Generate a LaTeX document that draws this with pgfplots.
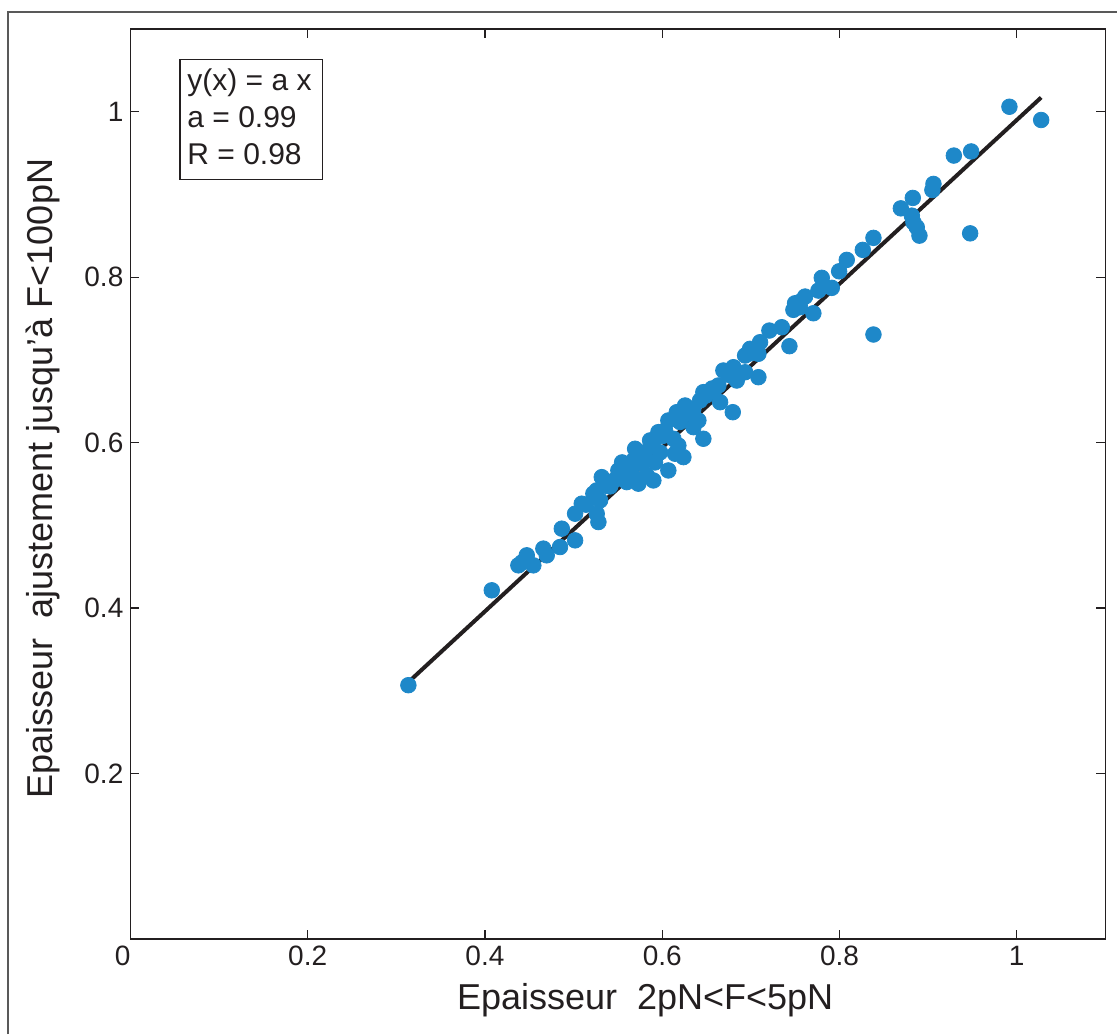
\documentclass[border=0pt]{standalone}
\usepackage{fontspec}
\setmainfont{Liberation Sans}
\usepackage{pgfplots}
\pgfplotsset{compat=1.18}
\definecolor{dotblue}{RGB}{30,136,201}
\definecolor{ink}{RGB}{35,31,32}
\begin{document}
\begin{tikzpicture}
\path[use as bounding box] (0,0) rectangle (558.5pt,517pt);
\draw[line width=0.7pt, color=gray!70!black] (4pt,0) -- (4pt,511pt) -- (558.5pt,511pt);
\begin{axis}[
  at={(65.2pt,47.5pt)}, anchor=south west,
  scale only axis, width=487.5pt, height=455pt,
  xmin=0, xmax=1.1, ymin=0, ymax=1.1,
  axis line style={line width=0.8pt, color=ink},
  tick style={line width=0.6pt, color=ink},
  tick align=inside, major tick length=4.5pt,
  xtick={0,0.2,0.4,0.6,0.8,1},
  xticklabels={\makebox[0pt][r]{0},0.2,0.4,0.6,0.8,1},
  ytick={0.2,0.4,0.6,0.8,1},
  yticklabels={0.2,0.4,0.6,0.8,1},
  ticklabel style={font=\fontsize{14}{16}\selectfont, color=ink},
  label style={font=\fontsize{18}{21}\selectfont, color=ink},
  xlabel={Epaisseur\ \ 2pN<F<5pN},
  ylabel={Epaisseur\ \ ajustement jusqu'à F<100pN},
  xlabel style={at={(axis description cs:0.528,-0.078)}, anchor=base},
  ylabel style={at={(axis description cs:-0.0794,0.506)}, anchor=base},
]
\addplot[only marks, color=dotblue, mark=*, mark size=3.9pt, mark options={draw=none, fill=dotblue}] table {
x y
0.9917 1.006
1.0275 0.990
0.929 0.947
0.9485 0.952
0.906 0.9127
0.9048 0.9054
0.8827 0.8958
0.8692 0.8832
0.8816 0.8744
0.8834 0.8663
0.8872 0.8603
0.8902 0.8502
0.9474 0.853
0.8383 0.8475
0.8263 0.833
0.8082 0.8209
0.7996 0.8071
0.78 0.7992
0.7913 0.7871
0.7762 0.7838
0.7612 0.7766
0.7499 0.7685
0.748 0.7605
0.7555 0.7637
0.7705 0.7564
0.8383 0.7307
0.7349 0.7395
0.7209 0.7355
0.7435 0.7166
0.7104 0.7214
0.6991 0.7134
0.7085 0.7074
0.6935 0.7053
0.7085 0.6791
0.669 0.6872
0.6803 0.6912
0.6841 0.6751
0.6935 0.6851
0.6634 0.6691
0.6464 0.661
0.6427 0.651
0.6653 0.6489
0.6796 0.6368
0.6258 0.6449
0.6277 0.6349
0.6408 0.6268
0.6352 0.6187
0.6464 0.6047
0.6069 0.6268
0.6164 0.6368
0.5957 0.6127
0.6126 0.6047
0.6182 0.5966
0.6239 0.5825
0.6145 0.5866
0.6069 0.5664
0.59 0.5543
0.5863 0.6027
0.5694 0.5926
0.5806 0.5885
0.5674 0.5785
0.5769 0.5745
0.5656 0.5624
0.56 0.5523
0.5731 0.5504
0.5826 0.5604
0.5505 0.5664
0.5318 0.5583
0.5223 0.5383
0.5092 0.5262
0.5017 0.5141
0.5261 0.5141
0.5299 0.5302
0.5674 0.5543
0.5261 0.5423
0.528 0.504
0.4867 0.496
0.5017 0.4819
0.4847 0.4738
0.4659 0.4719
0.4697 0.4638
0.4472 0.4638
0.4377 0.4517
0.4546 0.4517
0.4077 0.4215
0.3136 0.3068
0.4419 0.4553
0.5412 0.5471
0.5457 0.5543
0.5547 0.5761
0.5919 0.5761
0.5976 0.5882
0.6032 0.6147
0.6314 0.6413
0.6495 0.657
0.6563 0.6655
0.5140 0.5250
0.5360 0.5480
0.5620 0.5690
0.5720 0.5820
0.5890 0.5980
0.6000 0.6080
0.6200 0.6250
0.6350 0.6400
0.6580 0.6620
0.6750 0.6820
0.7000 0.7080
0.7550 0.7700
};
\addplot[ink, line width=2pt] coordinates {(0.3136,0.3105) (1.0275,1.0172)};
\draw[ink, line width=0.6pt] (axis cs:0.056,0.918) rectangle (axis cs:0.217,1.063);
\node[anchor=base west, inner sep=0pt, font=\fontsize{15}{18}\selectfont, text=ink] at (axis cs:0.0639,1.0254) {y(x) = a x};
\node[anchor=base west, inner sep=0pt, font=\fontsize{15}{18}\selectfont, text=ink] at (axis cs:0.0639,0.9807) {a = 0.99};
\node[anchor=base west, inner sep=0pt, font=\fontsize{15}{18}\selectfont, text=ink] at (axis cs:0.0639,0.936) {R = 0.98};
\end{axis}
\end{tikzpicture}
\end{document}
